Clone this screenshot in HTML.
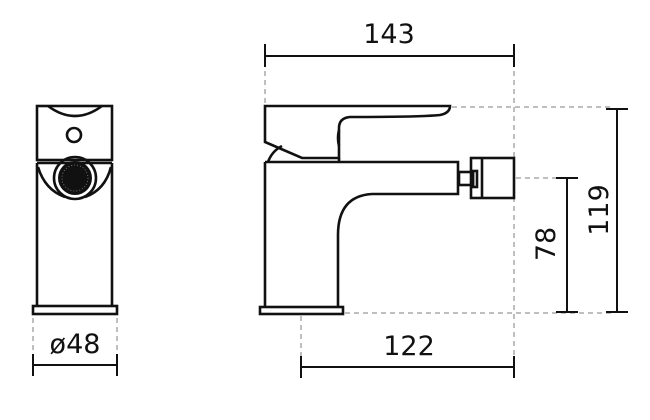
<!DOCTYPE html>
<html><head><style>html,body{margin:0;padding:0;background:#fff;}svg{display:block}</style></head>
<body>
<svg width="650" height="420" viewBox="0 0 650 420" xmlns="http://www.w3.org/2000/svg">
<g fill="none" stroke="#aaa" stroke-width="1.5" stroke-dasharray="5,4">
<line x1="265" y1="62" x2="265" y2="103"/>
<line x1="514" y1="62" x2="514" y2="362"/>
<line x1="452" y1="107" x2="612" y2="107"/>
<line x1="516" y1="178" x2="560" y2="178"/>
<line x1="345" y1="313" x2="612" y2="313"/>
<line x1="301" y1="316" x2="301" y2="362"/>
<line x1="33" y1="318" x2="33" y2="358"/>
<line x1="117" y1="318" x2="117" y2="358"/>
</g>
<g fill="none" stroke="#111" stroke-width="2">
<line x1="265" y1="56" x2="514" y2="56"/><line x1="265" y1="44" x2="265" y2="67"/><line x1="514" y1="44" x2="514" y2="67"/>
<line x1="617" y1="109" x2="617" y2="312"/><line x1="606" y1="109" x2="628" y2="109"/><line x1="606" y1="312" x2="628" y2="312"/>
<line x1="567" y1="178" x2="567" y2="312"/><line x1="556" y1="178" x2="578" y2="178"/><line x1="556" y1="312" x2="578" y2="312"/>
<line x1="301" y1="367" x2="514" y2="367"/><line x1="301" y1="356" x2="301" y2="378"/><line x1="514" y1="356" x2="514" y2="378"/>
<line x1="33" y1="365" x2="117" y2="365"/><line x1="33" y1="354" x2="33" y2="376"/><line x1="117" y1="354" x2="117" y2="376"/>
</g>
<g fill="none" stroke="#111" stroke-width="2.6">
<path d="M265 106 L450 106 Q450 113 440 115 Q420 117 350 117 Q339 118 339 128 L339 158 L302 158 L265 142 Z"/>
<path d="M339 130 Q337 138 339 146"/>
<path d="M268 162 Q272 151 282 146"/>
<line x1="339" y1="158" x2="339" y2="162"/>
<path d="M265 162 L458 162 L458 194 L372 194 Q338 196 338 235 L338 307 M265 162 L265 307"/>
<rect x="260" y="307" width="83" height="7"/>
<rect x="459" y="172" width="14" height="13"/>
<rect x="473" y="171" width="4" height="16"/>
<rect x="471" y="158" width="43" height="40"/>
<line x1="482" y1="158" x2="482" y2="198"/>
<rect x="37" y="106" width="75" height="54"/>
<path d="M48 106 Q75 126 102 106"/>
<circle cx="74" cy="135" r="7"/>
<line x1="37" y1="163" x2="112" y2="163"/>
<path d="M37 163 L37 306 M112 163 L112 306"/>
<path d="M38 167 Q45 190 65 197 M85 197 Q105 190 111 167"/>
<rect x="33" y="306" width="84" height="8"/>
<circle cx="75" cy="178" r="21"/>
</g>
<circle cx="75" cy="178" r="17" fill="#111"/>
<circle cx="75" cy="178" r="13" fill="none" stroke="#888" stroke-width="0.8" stroke-dasharray="1,2"/>
<g font-family="'DejaVu Sans','Liberation Sans',sans-serif" font-size="27" fill="#111" text-anchor="middle">
<text x="389" y="43">143</text>
<text x="409" y="355">122</text>
<text x="75" y="353">ø48</text>
<text transform="translate(608 210) rotate(-90)">119</text>
<text transform="translate(555 244) rotate(-90)">78</text>
</g>
</svg>
</body></html>
